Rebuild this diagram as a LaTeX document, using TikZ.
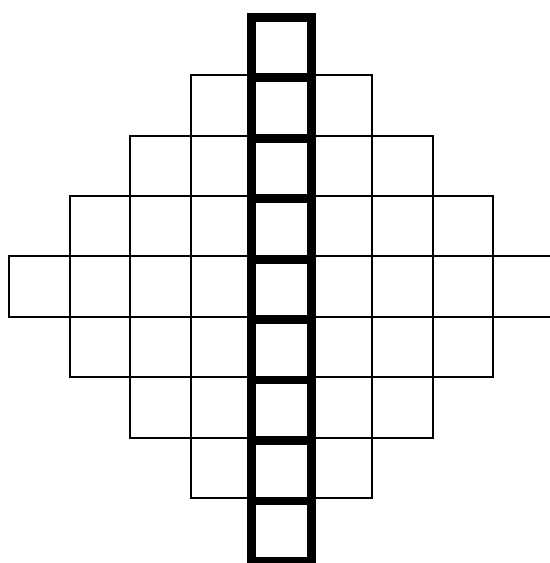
\documentclass[tikz,border=0pt]{standalone}
\begin{document}
\begin{tikzpicture}[x=0.5pt, y=-0.5pt,
  cell/.style={draw, line width=1pt},
  spine/.style={draw, line width=4.4pt}]
  \useasboundingbox (0,0) rectangle (550,563);
  \clip (0,0) rectangle (550,563);
  % side cells of the diamond
  \foreach \c in {-4,-3,-2,-1,1,2,3,4} {
    \pgfmathtruncatemacro\h{4-abs(\c)}
    \pgfmathtruncatemacro\lo{-\h}
    \foreach \r in {\lo,...,\h}
      \draw[cell] ({251+60.5*\c},{256.4+60.45*\r}) rectangle ++(60.5,60.45);
  }
  % thick middle column
  \foreach \r in {0,...,8}
    \draw[spine] (251.6,{17.3+60.45*\r}) rectangle ++(60.2,60.45);
\end{tikzpicture}
\end{document}
